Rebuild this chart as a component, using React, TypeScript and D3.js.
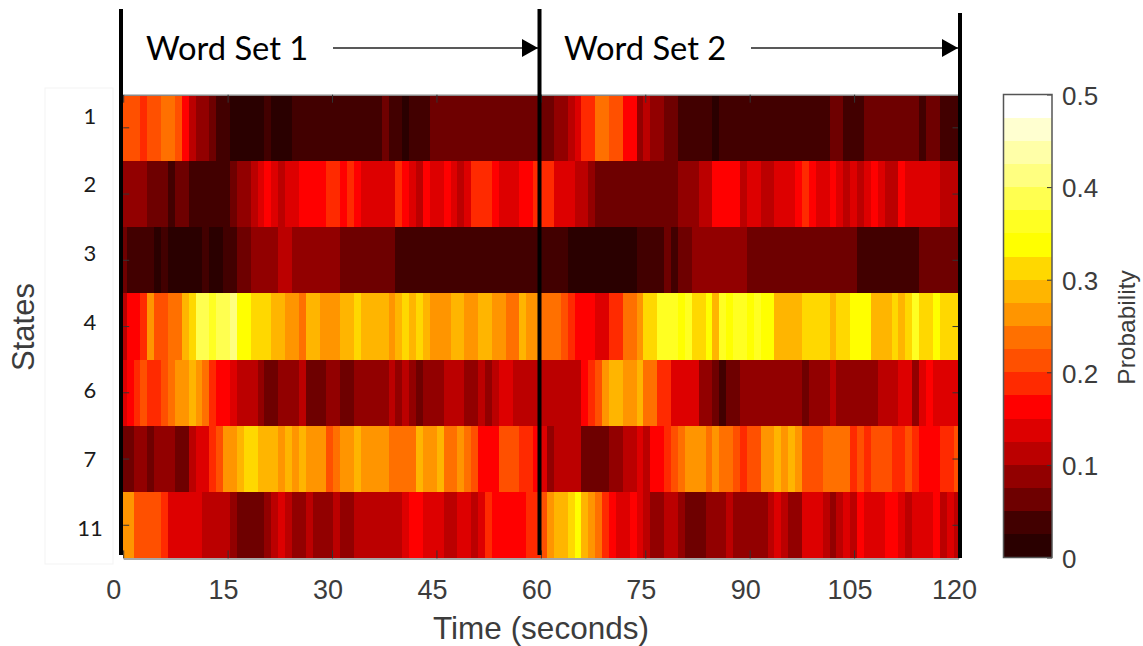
import React, { useEffect, useRef } from "react";
import * as d3 from "d3";

const states = ["1", "2", "3", "4", "6", "7", "11"];
const timeTicks = [0, 15, 30, 45, 60, 75, 90, 105, 120];
const colorTicks = [0, 0.1, 0.2, 0.3, 0.4, 0.5];
const wordSetLabels = ["Word Set 1", "Word Set 2"];
const sampleStep = 0.99; // seconds per column

// hot colormap, 20 steps
const hotColors = [
  "#2a0000", "#420000", "#6e0000", "#920000", "#bb0000", "#dd0000", "#ff0000", "#ff2a00", "#ff5000", "#ff7000",
  "#ff9500", "#ffb500", "#ffd800", "#ffff00", "#ffff22", "#ffff50", "#ffff80", "#ffffa8", "#ffffd0", "#ffffff",
];

const state1 = [
  .21, .21, .21, .19, .21, .21, .24, .24, .21, .16,
  .11, .09, .09, .06, .04, .04, .01, .01, .01, .01,
  .01, .04, .01, .01, .01, .04, .04, .04, .04, .04,
  .04, .04, .04, .04, .04, .04, .04, .04, .06, .04,
  .04, .01, .04, .04, .04, .06, .06, .06, .06, .06,
  .06, .06, .06, .06, .06, .06, .06, .06, .06, .06,
  .06, .06, .06, .09, .09, .11, .14, .19, .19, .24,
  .24, .21, .21, .16, .16, .09, .11, .09, .09, .06,
  .06, .04, .04, .04, .04, .04, .01, .04, .04, .04,
  .04, .04, .04, .04, .04, .04, .04, .04, .04, .04,
  .04, .04, .04, .06, .06, .04, .04, .04, .06, .06,
  .06, .06, .06, .06, .06, .06, .04, .06, .06, .04,
  .04, .04,
];
const state2 = [
  .09, .09, .09, .09, .06, .06, .06, .04, .06, .06,
  .04, .04, .04, .04, .04, .04, .06, .09, .09, .11,
  .14, .16, .14, .11, .14, .14, .16, .16, .16, .16,
  .19, .19, .16, .19, .16, .14, .14, .14, .14, .14,
  .19, .16, .14, .11, .16, .14, .14, .16, .14, .11,
  .14, .19, .19, .19, .16, .14, .14, .14, .16, .16,
  .19, .19, .19, .14, .14, .14, .11, .11, .09, .06,
  .06, .06, .06, .06, .06, .06, .06, .06, .06, .06,
  .06, .09, .09, .09, .11, .11, .16, .16, .16, .16,
  .11, .14, .14, .11, .11, .14, .14, .14, .16, .19,
  .16, .14, .14, .16, .14, .11, .14, .11, .14, .16,
  .14, .11, .11, .16, .14, .14, .14, .14, .14, .11,
  .11, .11,
];
const state3 = [
  .06, .04, .04, .04, .04, .01, .04, .01, .01, .01,
  .01, .01, .04, .01, .01, .04, .04, .06, .06, .09,
  .09, .09, .09, .11, .11, .09, .09, .09, .09, .09,
  .09, .09, .06, .06, .06, .06, .06, .06, .06, .06,
  .04, .04, .04, .04, .04, .04, .04, .04, .04, .04,
  .04, .04, .04, .04, .04, .04, .04, .04, .04, .04,
  .04, .04, .04, .04, .04, .01, .01, .01, .01, .01,
  .01, .01, .01, .01, .01, .04, .04, .04, .04, .06,
  .04, .06, .06, .09, .09, .09, .09, .09, .09, .09,
  .09, .06, .06, .06, .06, .06, .06, .06, .06, .06,
  .06, .06, .06, .06, .06, .06, .06, .04, .04, .04,
  .04, .04, .04, .04, .04, .04, .06, .06, .06, .06,
  .06, .06,
];
const state4 = [
  .11, .16, .16, .19, .26, .21, .21, .24, .24, .29,
  .31, .39, .39, .36, .39, .39, .41, .34, .34, .31,
  .31, .31, .29, .29, .26, .26, .24, .29, .29, .26,
  .26, .26, .29, .29, .31, .29, .29, .29, .29, .26,
  .29, .31, .29, .31, .29, .26, .26, .26, .29, .29,
  .26, .26, .29, .29, .26, .26, .24, .24, .29, .26,
  .26, .24, .24, .24, .21, .19, .16, .16, .16, .14,
  .14, .19, .19, .24, .24, .26, .31, .31, .36, .36,
  .36, .34, .36, .31, .31, .34, .29, .36, .34, .36,
  .36, .34, .36, .34, .34, .29, .29, .29, .29, .31,
  .31, .31, .31, .29, .31, .31, .34, .34, .34, .29,
  .29, .29, .31, .29, .31, .36, .31, .31, .34, .31,
  .31, .31,
];
const state6 = [
  .14, .16, .19, .21, .19, .19, .21, .24, .26, .26,
  .29, .26, .24, .19, .16, .16, .14, .11, .11, .11,
  .09, .06, .06, .09, .09, .09, .11, .06, .06, .06,
  .09, .09, .06, .06, .09, .09, .09, .09, .09, .11,
  .09, .11, .09, .06, .09, .09, .09, .11, .11, .11,
  .09, .09, .11, .09, .11, .14, .14, .11, .11, .11,
  .11, .11, .11, .11, .11, .11, .11, .16, .19, .21,
  .26, .29, .29, .26, .26, .29, .24, .24, .19, .19,
  .14, .14, .14, .14, .09, .09, .06, .04, .06, .06,
  .09, .09, .09, .09, .09, .09, .09, .09, .09, .06,
  .09, .09, .09, .11, .09, .09, .09, .09, .09, .09,
  .11, .11, .11, .14, .14, .09, .14, .16, .14, .14,
  .14, .14,
];
const state7 = [
  .06, .06, .09, .09, .06, .09, .09, .09, .06, .06,
  .11, .14, .14, .19, .21, .26, .26, .29, .31, .31,
  .29, .29, .29, .26, .29, .26, .29, .26, .26, .26,
  .21, .24, .26, .26, .29, .26, .26, .26, .26, .24,
  .24, .24, .24, .29, .26, .26, .29, .24, .24, .26,
  .24, .21, .16, .16, .16, .21, .21, .21, .19, .19,
  .16, .14, .09, .11, .11, .11, .11, .06, .06, .06,
  .06, .09, .09, .11, .11, .14, .11, .16, .16, .19,
  .21, .24, .26, .26, .26, .24, .26, .24, .24, .21,
  .19, .21, .21, .26, .26, .29, .26, .29, .26, .21,
  .21, .21, .24, .24, .24, .24, .19, .21, .19, .21,
  .21, .21, .19, .19, .21, .19, .16, .16, .16, .19,
  .19, .21,
];
const state11 = [
  .26, .26, .21, .21, .21, .21, .19, .14, .14, .14,
  .14, .14, .11, .11, .11, .11, .09, .06, .06, .06,
  .06, .09, .11, .14, .11, .09, .09, .11, .09, .09,
  .09, .11, .09, .09, .11, .11, .11, .11, .11, .11,
  .11, .14, .16, .16, .14, .14, .14, .11, .11, .14,
  .14, .11, .14, .19, .16, .16, .16, .16, .16, .19,
  .19, .21, .26, .29, .29, .31, .34, .29, .26, .24,
  .19, .16, .14, .14, .16, .14, .11, .09, .09, .11,
  .11, .09, .06, .06, .06, .09, .09, .09, .11, .09,
  .09, .09, .09, .09, .11, .14, .11, .09, .09, .14,
  .14, .14, .11, .09, .11, .14, .11, .16, .14, .14,
  .14, .16, .16, .14, .11, .14, .14, .14, .16, .11,
  .14, .11,
];
const stateValues = [state1, state2, state3, state4, state6, state7, state11];

export default function App() {
  const ref = useRef<SVGSVGElement>(null);

  useEffect(() => {
    const left = 123.2;
    const right = 958.5;
    const top = 94.7;
    const bottom = 558.4;
    const labelColor = "#3c3c3c";
    const helvetica = "'Liberation Sans', Arial, sans-serif";

    const svg = d3.select(ref.current);
    svg.selectAll("*").remove();

    const x = d3.scaleLinear().domain([0, 120]).range([left, right]);
    const y = d3.scaleBand().domain(states).range([top, bottom]);
    const color = d3.scaleQuantize<string>().domain([0, 0.5]).range(hotColors);
    // the state labels were placed by hand, they drift from the row centres
    const stateLabelY = d3.scalePoint().domain(states).range([116, 528]);

    // white box the state labels sit on
    svg.append("rect")
      .attr("x", 45).attr("y", 88).attr("width", 68).attr("height", 476)
      .attr("fill", "#fff").attr("stroke", "#f3f3f3");

    // Heatmap, columns are clipped to the axis limits
    const heat = svg.append("g").attr("shape-rendering", "crispEdges");
    states.forEach((state, row) => {
      heat.append("g").selectAll("rect")
        .data(stateValues[row])
        .join("rect")
        .attr("x", (d, i) => x(Math.max(0, (i - 0.5) * sampleStep)))
        .attr("y", y(state)!)
        .attr("width", (d, i) => x(Math.min(120, (i + 0.5) * sampleStep)) - x(Math.max(0, (i - 0.5) * sampleStep)))
        .attr("height", y.bandwidth())
        .attr("fill", (d) => color(d));
    });

    // Axes
    const xAxisBottom = svg.append("g")
      .attr("transform", `translate(0,${bottom})`)
      .call(d3.axisBottom(x).tickValues(timeTicks).tickSizeInner(-8).tickSizeOuter(0).tickPadding(21));
    const xAxisTop = svg.append("g")
      .attr("transform", `translate(0,${top})`)
      .call(d3.axisTop(x).tickValues(timeTicks).tickSizeInner(-8).tickSizeOuter(0).tickFormat(() => ""));
    const yAxisLeft = svg.append("g")
      .attr("transform", `translate(${left},0)`)
      .call(d3.axisLeft(y).tickSizeInner(-6).tickSizeOuter(0).tickFormat(() => ""));
    const yAxisRight = svg.append("g")
      .attr("transform", `translate(${right},0)`)
      .call(d3.axisRight(y).tickSizeInner(-6).tickSizeOuter(0).tickFormat(() => ""));

    [xAxisBottom, xAxisTop, yAxisLeft, yAxisRight].forEach((axis) => {
      axis.select(".domain").attr("stroke", "#8a8a8a").attr("stroke-width", 1.5);
      axis.selectAll(".tick line").attr("stroke", "#333");
    });
    yAxisLeft.select(".domain").remove();
    yAxisRight.select(".domain").remove();

    xAxisBottom.selectAll(".tick text")
      .attr("font-family", helvetica)
      .attr("font-size", 27)
      .attr("fill", labelColor)
      .attr("dx", (d) => (d === 0 ? -10 : -4.5));

    // State labels
    svg.append("g").selectAll("text")
      .data(states)
      .join("text")
      .attr("x", 90)
      .attr("y", (d) => stateLabelY(d)!)
      .attr("dy", "0.35em")
      .attr("text-anchor", "middle")
      .attr("font-family", "Lato, sans-serif")
      .attr("font-size", 22)
      .attr("fill", "#1a1a1a")
      .text((d) => d);

    // Titles
    svg.append("text")
      .attr("x", 541)
      .attr("y", 639)
      .attr("text-anchor", "middle")
      .attr("font-family", helvetica)
      .attr("font-size", 31.5)
      .attr("fill", labelColor)
      .text("Time (seconds)");

    svg.append("text")
      .attr("transform", "translate(34,327) rotate(-90)")
      .attr("text-anchor", "middle")
      .attr("font-family", helvetica)
      .attr("font-size", 31)
      .attr("fill", labelColor)
      .text("States");

    // Word set markers
    const defs = svg.append("defs");
    defs.append("marker")
      .attr("id", "arrow-head")
      .attr("viewBox", "0 0 16 18")
      .attr("refX", 16).attr("refY", 9)
      .attr("markerWidth", 16).attr("markerHeight", 18)
      .attr("markerUnits", "userSpaceOnUse")
      .attr("orient", "auto")
      .append("path")
      .attr("d", "M0,0L16,9L0,18Z")
      .attr("fill", "#000");

    const textStarts = [146, 564];
    const arrowStarts = [333, 751];
    const arrowTips = [538, 958];
    const markers = svg.append("g");
    wordSetLabels.forEach((label, i) => {
      markers.append("text")
        .attr("x", textStarts[i])
        .attr("y", 60)
        .attr("font-family", "Lato, sans-serif")
        .attr("font-size", 32.7)
        .attr("fill", "#000")
        .text(label);
      markers.append("line")
        .attr("x1", arrowStarts[i])
        .attr("x2", arrowTips[i])
        .attr("y1", 48)
        .attr("y2", 48)
        .attr("stroke", "#222")
        .attr("stroke-width", 1.5)
        .attr("marker-end", "url(#arrow-head)");
    });

    markers.append("line")
      .attr("x1", 121).attr("x2", 121).attr("y1", 9).attr("y2", 555)
      .attr("stroke", "#000").attr("stroke-width", 4);
    markers.append("line")
      .attr("x1", 539.5).attr("x2", 539.5).attr("y1", 9).attr("y2", 555)
      .attr("stroke", "#000").attr("stroke-width", 4);
    markers.append("line")
      .attr("x1", 960).attr("x2", 960).attr("y1", 13).attr("y2", 558)
      .attr("stroke", "#000").attr("stroke-width", 4);

    // Colorbar
    const barX = 1003.5;
    const barW = 48.5;
    const barScale = d3.scaleLinear().domain([0, 0.5]).range([557.5, 94.5]);
    const bar = svg.append("g").attr("shape-rendering", "crispEdges");
    bar.selectAll("rect")
      .data(hotColors)
      .join("rect")
      .attr("x", barX)
      .attr("width", barW)
      .attr("y", (d) => barScale(color.invertExtent(d)[1]))
      .attr("height", (d) => barScale(color.invertExtent(d)[0]) - barScale(color.invertExtent(d)[1]))
      .attr("fill", (d) => d);

    const barAxis = svg.append("g")
      .attr("transform", `translate(${barX + barW},0)`)
      .call(d3.axisRight(barScale)
        .tickValues(colorTicks)
        .tickSizeInner(-5)
        .tickSizeOuter(0)
        .tickPadding(10)
        .tickFormat((d) => (d === 0 ? "0" : d3.format(".1f")(d as number))));
    barAxis.select(".domain").remove();
    barAxis.selectAll(".tick line").attr("stroke", "#333");
    barAxis.selectAll(".tick text")
      .attr("font-family", helvetica)
      .attr("font-size", 26)
      .attr("fill", labelColor)
      .attr("dy", "0.38em");

    svg.append("rect")
      .attr("x", barX).attr("y", 94.5).attr("width", barW).attr("height", 463)
      .attr("fill", "none").attr("stroke", "#555").attr("stroke-width", 1.5);

    svg.append("text")
      .attr("transform", "translate(1135,327.5) rotate(-90)")
      .attr("text-anchor", "middle")
      .attr("font-family", helvetica)
      .attr("font-size", 24.5)
      .attr("fill", labelColor)
      .text("Probability");
  }, []);

  return (
    <svg
      ref={ref}
      width={1143}
      height={646}
      style={{ position: "absolute", left: 0, top: 0, display: "block", background: "#fff" }}
    />
  );
}
